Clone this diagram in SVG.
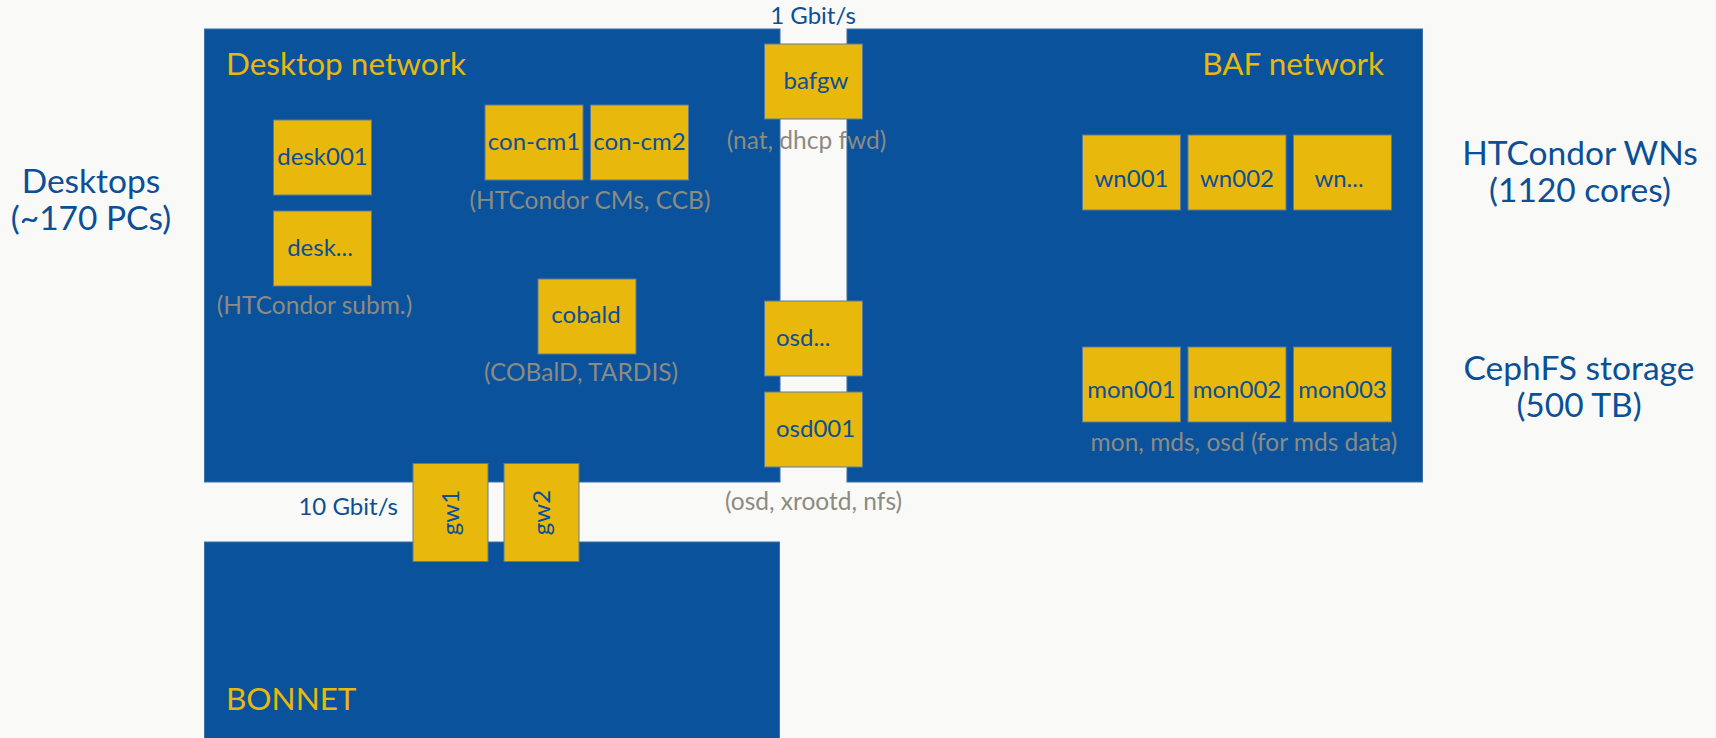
<svg xmlns="http://www.w3.org/2000/svg" width="1716" height="738" viewBox="0 0 1716 738">
<style>
.bg{fill:#F9F9F7}
.net{fill:#0A529B;stroke:#3A6FA8;stroke-width:1}
.node rect{fill:#E9B80C;stroke:#5A7CA0;stroke-width:1}
.lbl{font-family:Lato,"Open Sans",sans-serif;font-size:24px;fill:#0B4F96;text-anchor:middle}
.lbl.st{text-anchor:start}
.title{font-family:Lato,"Open Sans",sans-serif;font-size:31.5px;fill:#E9B80C}
.title.end{text-anchor:end}
.note{font-family:Lato,"Open Sans",sans-serif;font-size:24.5px;fill:#8C8B82;text-anchor:middle}
.side{font-family:Lato,"Open Sans",sans-serif;font-size:33.5px;fill:#0B4F96;text-anchor:middle}
.speed{font-family:Lato,"Open Sans",sans-serif;font-size:24px;fill:#0B4F96;text-anchor:middle}
.speed.end{text-anchor:end}
</style>
<rect class="bg" x="0" y="0" width="1716" height="738"/>
<g id="networks">
<rect id="desktop-network" class="net" x="204.5" y="29" width="575.5" height="453"/>
<rect id="baf-network" class="net" x="847" y="29" width="575.5" height="453"/>
<rect id="bonnet" class="net" x="204.5" y="542" width="575" height="200"/>
<text class="title" x="226" y="75">Desktop network</text>
<text class="title end" x="1384" y="75">BAF network</text>
<text class="title" x="226" y="710">BONNET</text>
</g>
<g id="connectors"></g>
<g id="node-desk001" class="node"><rect x="273.5" y="120" width="98" height="75"/><text class="lbl" x="322.5" y="165">desk001</text></g>
<g id="node-desk" class="node"><rect x="273.5" y="211" width="98" height="75"/><text class="lbl" x="320" y="256">desk...</text></g>
<g id="node-con-cm1" class="node"><rect x="485" y="105" width="98" height="75"/><text class="lbl" x="534" y="150">con-cm1</text></g>
<g id="node-con-cm2" class="node"><rect x="590.5" y="105" width="98" height="75"/><text class="lbl" x="639.5" y="150">con-cm2</text></g>
<g id="node-cobald" class="node"><rect x="538" y="279" width="98" height="75"/><text class="lbl" x="586" y="323">cobald</text></g>
<g id="node-bafgw" class="node"><rect x="764.5" y="44" width="98" height="75"/><text class="lbl" x="816" y="89">bafgw</text></g>
<g id="node-osd" class="node"><rect x="764.5" y="301" width="98" height="75"/><text class="lbl st" x="776" y="346">osd...</text></g>
<g id="node-osd001" class="node"><rect x="764.5" y="392" width="98" height="75"/><text class="lbl st" x="776" y="437">osd001</text></g>
<g id="node-wn001" class="node"><rect x="1082.5" y="135" width="98" height="75"/><text class="lbl" x="1131.5" y="187">wn001</text></g>
<g id="node-wn002" class="node"><rect x="1188" y="135" width="98" height="75"/><text class="lbl" x="1237" y="187">wn002</text></g>
<g id="node-wn" class="node"><rect x="1293.5" y="135" width="98" height="75"/><text class="lbl" x="1339" y="187">wn...</text></g>
<g id="node-mon001" class="node"><rect x="1082.5" y="347" width="98" height="75"/><text class="lbl" x="1131.5" y="398">mon001</text></g>
<g id="node-mon002" class="node"><rect x="1188" y="347" width="98" height="75"/><text class="lbl" x="1237" y="398">mon002</text></g>
<g id="node-mon003" class="node"><rect x="1293.5" y="347" width="98" height="75"/><text class="lbl" x="1342.5" y="398">mon003</text></g>
<g id="node-gw1" class="node"><rect x="413" y="463.5" width="75" height="98"/><text class="lbl" transform="translate(450.5,512.5) rotate(-90)" x="0" y="8">gw1</text></g>
<g id="node-gw2" class="node"><rect x="504" y="463.5" width="75" height="98"/><text class="lbl" transform="translate(541.5,512.5) rotate(-90)" x="0" y="8">gw2</text></g>
<g id="notes">
<text class="note" x="314.5" y="314">(HTCondor subm.)</text>
<text class="note" x="590" y="209">(HTCondor CMs, CCB)</text>
<text class="note" x="581" y="381">(COBalD, TARDIS)</text>
<text class="note" x="806.5" y="149">(nat, dhcp fwd)</text>
<text class="note" x="813.5" y="510">(osd, xrootd, nfs)</text>
<text class="note" x="1244" y="451">mon, mds, osd (for mds data)</text>
<text class="speed" x="813" y="24">1 Gbit/s</text>
<text class="speed end" x="398" y="515">10 Gbit/s</text>
<text class="side" x="91" y="193">Desktops</text>
<text class="side" x="91" y="230">(~170 PCs)</text>
<text class="side" x="1580" y="165">HTCondor WNs</text>
<text class="side" x="1580" y="202">(1120 cores)</text>
<text class="side" x="1579" y="380">CephFS storage</text>
<text class="side" x="1579" y="417">(500 TB)</text>
</g>
</svg>
